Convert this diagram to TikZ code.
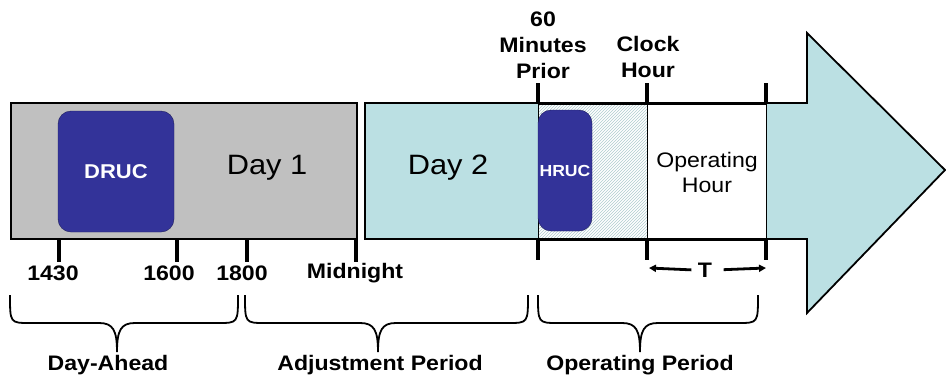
\documentclass[tikz,border=0pt]{standalone}
\usepackage{fontspec}
\setmainfont{Liberation Sans}[FakeStretch=1.1]
\usetikzlibrary{patterns, arrows.meta}
\definecolor{daygray}{HTML}{C0C0C0}
\definecolor{daycyan}{HTML}{BBE0E3}
\definecolor{ucblue}{HTML}{333399}

\begin{document}
\begin{tikzpicture}[x=1pt, y=-1pt,
		lbl/.style={font=\bfseries\fontsize{21}{26}\selectfont},
		ucbox/.style={fill=ucblue, draw=ucblue!60!black, rounded corners=13pt, text=white, inner sep=1pt},
		tickln/.style={line width=3.2pt},
		brc/.style={line width=1.8pt},
		tarrow/.style={line width=2.8pt, -{Triangle[length=7pt, width=7pt]}}]
	\useasboundingbox (0,0) rectangle (946,381);
	
	% day 1 block
	\draw [fill=daygray, line width=1.8pt] (11,103) rectangle (357,239);
	\node [ucbox, minimum width=116pt, minimum height=121pt, font=\bfseries\fontsize{20}{24}\selectfont] (druc) at (116,171.5) {DRUC};
	\node [font=\fontsize{28}{32}\selectfont] (day1) at (267,168) {Day 1};
	
	% big arrow (day 2)
	\draw [fill=daycyan, line width=1.8pt, line join=miter] (365,103) -- (807,103) -- (807,33) -- (945,170) -- (807,313) -- (807,239) -- (365,239) -- cycle;
	\node [font=\fontsize{28}{32}\selectfont] (day2) at (448,168) {Day 2};
	
	% operating window
	\fill [white] (538,103) rectangle (647,239);
	\fill [pattern=north east lines, pattern color=daycyan!80!gray] (538,103) rectangle (647,239);
	\fill [white] (647,103) rectangle (766,239);
	\foreach \x in {538,647,766}
		\draw [line width=0.8pt] (\x,103) -- (\x,239);
	\node [ucbox, minimum width=54pt, minimum height=121pt, font=\bfseries\fontsize{16}{20}\selectfont] (hruc) at (565,170.5) {HRUC};
	\node [align=center, font=\fontsize{21}{25}\selectfont] (ophour) at (707,172) {Operating\\Hour};
	\draw [line width=3pt] (538,103) -- (766,103);
	\draw [line width=3pt] (538,239) -- (766,239);
	\foreach \x in {538,647,766} {
		\draw [tickln] (\x,83) -- (\x,104);
		\draw [tickln] (\x,238) -- (\x,260);
	}
	\node [lbl, align=center] (prior) at (543,45) {60\\Minutes\\Prior};
	\node [lbl, align=center] (clock) at (648,57) {Clock\\Hour};
	
	% T span
	\coordinate (tl) at (649,268);
	\coordinate (tr) at (766,268);
	\node [lbl] (T) at (705,270) {T};
	\draw [tarrow, shorten <=3pt] (T.west) -- (tl);
	\draw [tarrow, shorten <=8pt] (T.east) -- (tr);
	
	% day 1 ticks
	\foreach \x in {59,177,247,356}
		\draw [tickln] (\x,239) -- (\x,262);
	\node [lbl] (t1430) at (53,273) {1430};
	\node [lbl] (t1600) at (169,273) {1600};
	\node [lbl] (t1800) at (242,273) {1800};
	\node [lbl] (tmid) at (355,273) {Midnight};
	
	% braces
	\foreach \a/\m/\b in {10/117/238, 245/378/528, 538/640/758}
		\draw [brc] (\a,295) .. controls (\a,323) and (\a,323) .. (\a+20,323) -- (\m-18,323) .. controls (\m-4,323) and (\m,330) .. (\m,352)
			(\m,352) .. controls (\m,330) and (\m+4,323) .. (\m+18,323) -- (\b-20,323) .. controls (\b,323) and (\b,323) .. (\b,295);
	\node [lbl] (dayahead) at (108,365) {Day-Ahead};
	\node [lbl] (adjust) at (380,365) {Adjustment Period};
	\node [lbl] (operating) at (640,365) {Operating Period};
\end{tikzpicture}
\end{document}
